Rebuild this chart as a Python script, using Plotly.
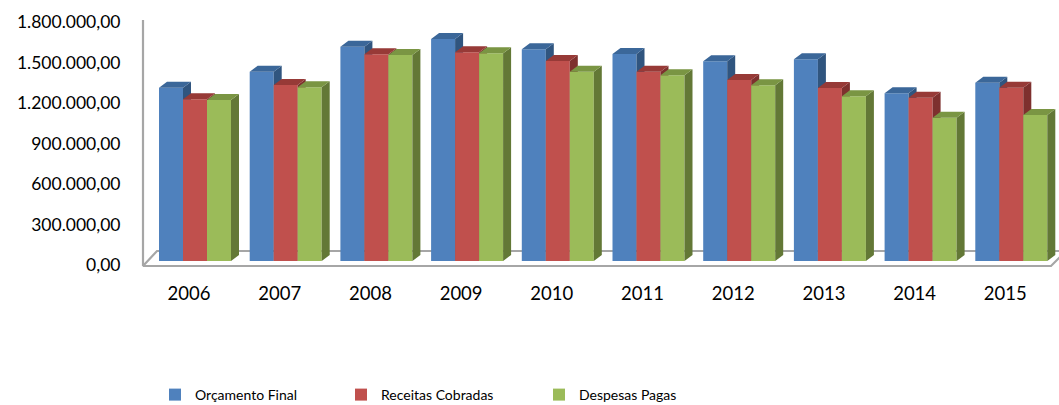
import plotly.graph_objects as go

# ---------------- data ----------------
years = ["2006", "2007", "2008", "2009", "2010", "2011", "2012", "2013", "2014", "2015"]
orcamento_final = [1302000, 1422000, 1610000, 1668000, 1590000, 1555000, 1500000, 1515000, 1260000, 1340000]
receitas_cobradas = [1215000, 1322000, 1553000, 1568000, 1502000, 1422000, 1360000, 1300000, 1227000, 1302000]
despesas_pagas = [1209000, 1305000, 1547000, 1560000, 1422000, 1395000, 1320000, 1237000, 1077000, 1097000]
y_tick_values = [0, 300000, 600000, 900000, 1200000, 1500000, 1800000]
y_tick_labels = ["0,00", "300.000,00", "600.000,00", "900.000,00", "1.200.000,00", "1.500.000,00", "1.800.000,00"]
series_names = ["Orçamento Final", "Receitas Cobradas", "Despesas Pagas"]

# ---------------- geometry (pixels) ----------------
W, H = 1059, 405
PL, PR, PT, PB = 140, 1059, 15, 270          # plot area edges in px
GROUP_PX = 90.7                                # px per category
FIRST_CENTER_PX = 195                          # px of first group centre
x_lo = (PL - FIRST_CENTER_PX) / GROUP_PX
x_hi = (PR - FIRST_CENTER_PX) / GROUP_PX

# bar value scale: 0 at px 261, 1.8M spans 239.6 px
BAR_ZERO_PX, BAR_SPAN_PX = 261, 239.6
bar_per_px = 1800000 / BAR_SPAN_PX
yb_lo = -(PB - BAR_ZERO_PX) * bar_per_px
yb_hi = (BAR_ZERO_PX - PT) * bar_per_px
# label (front plane) scale: 0 at px 265, 1.8M at px 22
LAB_ZERO_PX, LAB_SPAN_PX = 265, 243
lab_per_px = 1800000 / LAB_SPAN_PX
yl_lo = -(PB - LAB_ZERO_PX) * lab_per_px
yl_hi = (LAB_ZERO_PX - PT) * lab_per_px


def px_x(px):
    return (px - FIRST_CENTER_PX) / GROUP_PX


def px_ylab(py):
    return (LAB_ZERO_PX - py) * lab_per_px


bar_w = 24 / GROUP_PX
depth_dx = 8 / GROUP_PX
depth_dy = 6 * bar_per_px

front_colors = ["#4F81BD", "#C0504D", "#9BBB59"]
top_colors = ["#3B6799", "#973A37", "#7A9543"]
side_colors = ["#30557F", "#7E302E", "#637836"]
values = [orcamento_final, receitas_cobradas, despesas_pagas]
offsets = [-bar_w, 0.0, bar_w]

fig = go.Figure()

# floor and wall (base subplot)
floor_color = "#A6A6A6"
fig.add_trace(go.Scatter(
    x=[px_x(143), px_x(143), px_x(157), px_x(1062), None, px_x(143), px_x(1051), px_x(1060)],
    y=[px_ylab(20), px_ylab(266), px_ylab(251), px_ylab(251), None, px_ylab(266), px_ylab(266), px_ylab(257)],
    mode="lines", line=dict(color=floor_color, width=2.2), showlegend=False, hoverinfo="skip",
    xaxis="x", yaxis="y"))

for i, (name, vals) in enumerate(zip(series_names, values)):
    xa, ya = f"x{i + 2}", f"y{i + 2}"
    xs = [k + offsets[i] for k in range(len(years))]
    fig.add_trace(go.Bar(
        x=xs, y=vals, width=bar_w, name=name,
        marker=dict(color=front_colors[i], line=dict(width=0)),
        xaxis=xa, yaxis=ya, legend="legend" if i == 0 else f"legend{i + 1}"))
    side_x, side_y, top_x, top_y = [], [], [], []
    for xc, v in zip(xs, vals):
        xl, xr = xc - bar_w / 2, xc + bar_w / 2
        side_x += [xr, xr + depth_dx, xr + depth_dx, xr, xr, None]
        side_y += [0, depth_dy, v + depth_dy, v, 0, None]
        top_x += [xl, xl + depth_dx, xr + depth_dx, xr, xl, None]
        top_y += [v, v + depth_dy, v + depth_dy, v, v, None]
    fig.add_trace(go.Scatter(x=side_x, y=side_y, fill="toself", fillcolor=side_colors[i],
                             mode="lines", line=dict(width=0, color=side_colors[i]),
                             showlegend=False, hoverinfo="skip", xaxis=xa, yaxis=ya))
    fig.add_trace(go.Scatter(x=top_x, y=top_y, fill="toself", fillcolor=top_colors[i],
                             mode="lines", line=dict(width=0, color=top_colors[i]),
                             showlegend=False, hoverinfo="skip", xaxis=xa, yaxis=ya))

FONT = "Lato, Open Sans, sans-serif"
layout = dict(
    width=W, height=H,
    margin=dict(l=PL, r=W - PR, t=PT, b=H - PB, autoexpand=False),
    paper_bgcolor="white", plot_bgcolor="rgba(0,0,0,0)",
    font=dict(family=FONT, color="#000000"),
    xaxis=dict(range=[x_lo, x_hi], tickmode="array",
               tickvals=[k - 0.066 for k in range(len(years))], ticktext=years,
               ticks="outside", ticklen=7, tickcolor="rgba(0,0,0,0)",
               showgrid=False, zeroline=False, showline=False,
               tickfont=dict(size=18.5, family=FONT, color="#000000"), automargin=False),
    yaxis=dict(range=[yl_lo, yl_hi], tickmode="array", tickvals=y_tick_values, ticktext=y_tick_labels,
               ticks="outside", ticklen=15, tickcolor="rgba(0,0,0,0)",
               showgrid=False, zeroline=False, showline=False,
               tickfont=dict(size=17.5, family=FONT, color="#000000"), automargin=False),
    barmode="overlay",
    showlegend=True,
)
for i in range(3):
    layout[f"xaxis{i + 2}"] = dict(range=[x_lo, x_hi], overlaying="x", visible=False)
    layout[f"yaxis{i + 2}"] = dict(range=[yb_lo, yb_hi], overlaying="y", visible=False)

legend_left_px = [155, 341, 539]
for i, lpx in enumerate(legend_left_px):
    key = "legend" if i == 0 else f"legend{i + 1}"
    layout[key] = dict(x=(lpx - PL) / (PR - PL), y=(PB - 395) / (PB - PT),
                       xanchor="left", yanchor="middle", orientation="h",
                       bgcolor="rgba(0,0,0,0)", borderwidth=0,
                       font=dict(size=14, family=FONT, color="#000000"),
                       itemwidth=30)
fig.update_layout(**layout)
fig.write_html("out.html")
